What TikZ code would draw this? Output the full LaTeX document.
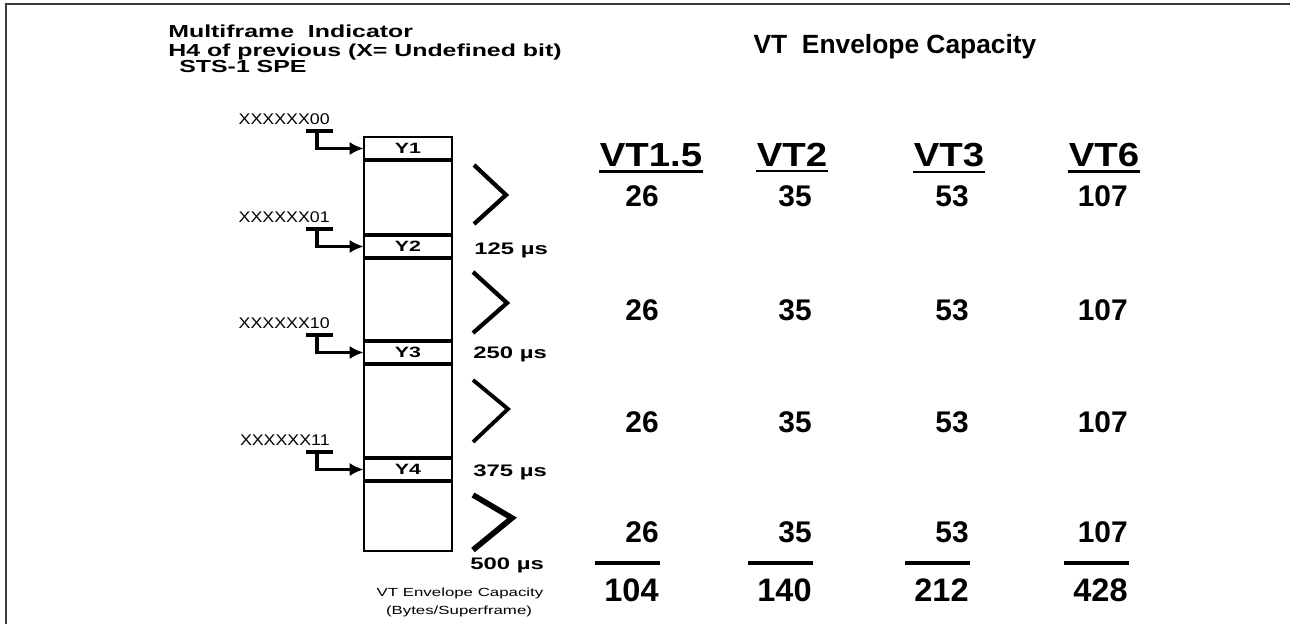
\documentclass[tikz,border=0pt]{standalone}
\usepackage{fontspec}
\setmainfont{Liberation Sans}
\newfontfamily\widesans{Liberation Sans}[FakeStretch=1.43]
\newfontfamily\colfont{Liberation Sans}[FakeStretch=1.15]
\usepackage{tikz}
\usetikzlibrary{arrows.meta, positioning, calc}
\definecolor{frameline}{HTML}{3C3C3C}

\begin{document}
\begin{tikzpicture}[x=1cm, y=1cm,
  smalltxt/.style={font=\widesans\bfseries\fontsize{9.9}{11}\selectfont, inner sep=0pt, anchor=base west},
  codetxt/.style={font=\colfont\fontsize{8.8}{9}\selectfont, inner sep=0pt, anchor=base east},
  timetxt/.style={font=\widesans\bfseries\fontsize{9.5}{11}\selectfont, inner sep=0pt, anchor=base west},
  tinytxt/.style={font=\widesans\fontsize{6.7}{8}\selectfont, inner sep=0pt, anchor=base},
  slot/.style={minimum width=1.76cm, minimum height=0.46cm, inner sep=0pt,
    font=\widesans\bfseries\fontsize{8.5}{9}\selectfont},
  slotline/.style={line width=2.2pt},
  pointer/.style={line width=1.8pt, -{Latex[length=8pt, width=7.5pt]}},
  colhead/.style={font=\colfont\bfseries\fontsize{19}{22}\selectfont, inner sep=0pt, anchor=base},
  valtxt/.style={font=\bfseries\fontsize{17}{20}\selectfont, inner sep=0pt, anchor=base east},
  sumtxt/.style={font=\bfseries\fontsize{18.5}{22}\selectfont, inner sep=0pt, anchor=base east},
  sumbar/.style={line width=2.8pt}]

  \useasboundingbox (0,0) rectangle (25.8,12.48);

  %% Frame
  \draw[frameline, line width=1.2pt] (0.12,0) -- (0.12,12.40) -- (25.8,12.40);

  %% Titles
  \node[smalltxt] (mfi) at (3.36,11.72) {Multiframe\ \ Indicator};
  \node[smalltxt] (hfour) at (3.36,11.34) {H4 of previous (X= Undefined bit)};
  \node[smalltxt] (spe) at (3.58,11.02) {STS-1 SPE};
  \node[font=\bfseries\fontsize{15}{17}\selectfont, inner sep=0pt, anchor=base] (vtcap)
    at (17.90,11.40) {VT\ \ Envelope Capacity};

  %% STS-1 SPE superframe
  \draw[line width=1.1pt] (7.28,1.46) rectangle (9.04,9.74);
  \foreach \n/\yc/\code in {1/9.51/00, 2/7.55/01, 3/5.43/10, 4/3.09/11}{
    \node[slot] (y\n) at (8.16,\yc) {Y\n};
    \ifnum\n>1
      \draw[slotline] (y\n.north west) -- (y\n.north east);
    \fi
    \draw[slotline] (y\n.south west) -- (y\n.south east);
    \coordinate (t\n) at (6.34,{\yc+0.35});
    \draw[line width=1.8pt] ([xshift=-0.22cm]t\n) -- ([xshift=0.32cm]t\n);
    \draw[pointer] (t\n) |- (y\n.west);
    \node[codetxt] (c\n) at ([xshift=0.26cm, yshift=0.13cm]t\n) {XXXXXX\code};
  }

  %% Chevrons
  \foreach \xa/\ya/\xb/\yb/\yc/\w in {
    9.48/9.18/10.12/8.58/8.00/2.4,
    9.46/7.04/10.14/6.42/5.82/2.4,
    9.46/4.88/10.16/4.30/3.64/2.2,
    9.46/2.58/10.24/2.12/1.48/3.2}{
    \draw[line width=\w pt] (\xa,\ya) -- (\xb,\yb) -- (\xa,\yc);
  }

  %% Time marks
  \foreach \n/\xt/\yt/\t in {1/9.48/7.38/125, 2/9.46/5.30/250, 3/9.46/2.94/375, 4/9.40/1.08/500}{
    \node[timetxt] (tm\n) at (\xt,\yt) {\t\ µs};
  }
  \node[tinytxt] (capa) at (9.20,0.54) {VT Envelope Capacity};
  \node[tinytxt] (capb) at (9.18,0.18) {(Bytes/Superframe)};

  %% Capacity table
  \foreach \c/\xh/\xr/\hd/\v/\s in {
    1/13.02/13.18/VT1.5/26/104,
    2/15.84/16.24/VT2/35/140,
    3/18.98/19.38/VT3/53/212,
    4/22.08/22.56/VT6/107/428}{
    \node[colhead] (h\c) at (\xh,9.14) {\hd};
    \draw[line width=1.2pt] ([yshift=-2.2pt]h\c.south west) -- ([yshift=-2.2pt]h\c.south east);
    \foreach \r/\yb in {1/8.34, 2/6.06, 3/3.82, 4/1.62}{
      \node[valtxt] (v\c\r) at (\xr,\yb) {\v};
    }
    \draw[sumbar] ({\xr-1.28},1.22) -- ({\xr+0.02},1.22);
    \node[sumtxt] (s\c) at (\xr,0.44) {\s};
  }

\end{tikzpicture}
\end{document}
